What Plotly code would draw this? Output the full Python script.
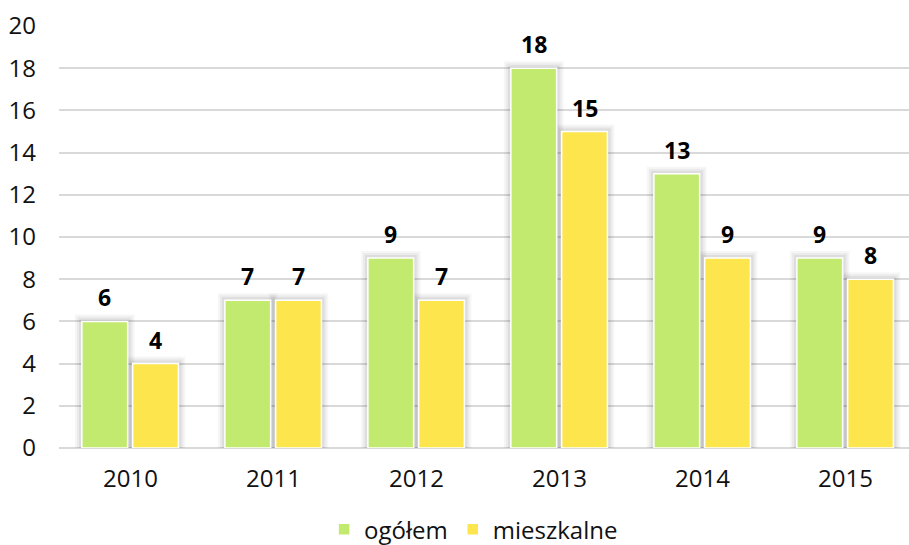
import plotly.graph_objects as go

years = ["2010", "2011", "2012", "2013", "2014", "2015"]
ogolem = [6, 7, 9, 18, 13, 9]
mieszkalne = [4, 7, 7, 15, 9, 8]

GREEN = "#C2EA6F"
YELLOW = "#FDE54E"
FONT = "Open Sans"

xs = list(range(len(years)))
px_x = 1 / 143.0
px_y = 1 / 21.13

fig = go.Figure()

series = [("ogółem", ogolem, GREEN, -0.34), ("mieszkalne", mieszkalne, YELLOW, 0.015)]
W = 0.32

# soft shadow layers
for name, vals, col, off in series:
    for k, a in [(7, 0.035), (5, 0.045), (3, 0.06)]:
        fig.add_trace(go.Bar(
            x=xs, y=[v + k * px_y for v in vals], base=0,
            offset=off - k * px_x, width=W + 2 * k * px_x,
            marker=dict(color=f"rgba(0,0,0,{a})", line=dict(width=0)),
            showlegend=False, hoverinfo="skip"))

for name, vals, col, off in series:
    fig.add_trace(go.Bar(
        x=xs, y=vals, name=name, offset=off, width=W,
        marker=dict(color=col, line=dict(color="white", width=1.5))))
    for x, v in zip(xs, vals):
        fig.add_annotation(x=x + off + W / 2, y=v, text=f"<b>{v}</b>",
                           showarrow=False, yanchor="middle", yshift=24,
                           font=dict(family=FONT, size=23, color="#000000"))

fig.update_layout(
    width=909, height=545,
    barmode="overlay",
    margin=dict(l=59, r=0, t=26, b=97, autoexpand=False),
    paper_bgcolor="white", plot_bgcolor="white",
    font=dict(family=FONT, size=24, color="#111111"),
    legend=dict(orientation="h", x=0.521, xanchor="center", xref="container",
                y=0.028, yanchor="middle", yref="container",
                font=dict(size=24), traceorder="normal", itemwidth=30),
    showlegend=True,
)
fig.update_xaxes(range=[-0.5, 5.444], tickmode="array", tickvals=xs, ticktext=years,
                 showgrid=False, zeroline=False, showline=False, ticks="",
                 ticklabelstandoff=14, automargin=False)
fig.update_yaxes(range=[0, 20], dtick=2, showgrid=True, gridcolor="#D9D9D9", gridwidth=1.5,
                 zeroline=True, zerolinecolor="#D9D9D9", zerolinewidth=1.5,
                 showline=False, ticks="", ticklabelstandoff=22, automargin=False)

fig.write_html("out.html", config={"displayModeBar": False},
               post_script="document.body.style.margin='0';document.body.style.overflow='hidden';")
